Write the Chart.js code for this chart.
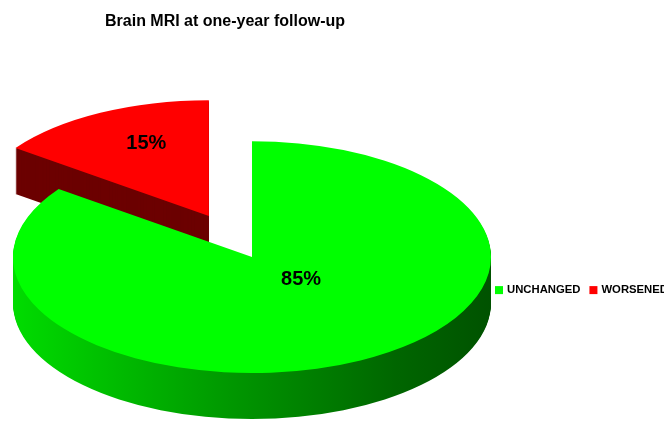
<!DOCTYPE html>
<html lang="en">
<head>
    <meta charset="utf-8">
    <meta name="viewport" content="width=device-width, initial-scale=1">
    <title>Brain MRI at one-year follow-up</title>
    <style>
        html, body { margin: 0; padding: 0; background: #fff; }
        #wrap { position: relative; width: 664px; height: 426px; }
    </style>
</head>
<body>
    <!-- Chart canvas element -->
    <div id="wrap"><canvas id="mriChart"></canvas></div>
    <script src="https://cdn.jsdelivr.net/npm/chart.js"></script>
    <script>
        // Data
        const labels = ['UNCHANGED', 'WORSENED']
        const percent = [85, 15]
        const top_colors = ['#00ff00', '#ff0000']

        // Look of the 3d pie
        const TILT = 0.485          // vertical squash of the disc
        const DEPTH = 46            // wall height in px
        const EXPLODE = [0, 95]     // how far each slice is pulled out
        const LABEL_AT = [0.25, 0.65]
        const LABEL_NUDGE = [[22, -3], [8, -5]]
        const FONT = '"Liberation Sans", Arial, sans-serif'

        function place_arc(ctx, arc, i, drop) {
            // squash the arc about its centre, push it out along its middle angle, drop it for the wall
            const mid = (arc.startAngle + arc.endAngle) / 2
            ctx.translate(arc.x, arc.y + drop)
            ctx.scale(1, TILT)
            ctx.translate(-arc.x + Math.cos(mid) * EXPLODE[i], -arc.y + Math.sin(mid) * EXPLODE[i])
        }

        function wedge_path(ctx, arc) {
            ctx.beginPath()
            ctx.moveTo(arc.x, arc.y)
            ctx.arc(arc.x, arc.y, arc.outerRadius, arc.startAngle, arc.endAngle)
            ctx.closePath()
        }

        const pie3d = {
            id: 'pie3d',
            beforeDatasetsDraw(chart) {
                const ctx = chart.ctx
                const arcs = chart.getDatasetMeta(0).data
                const a0 = arcs[0]
                const wall = ctx.createLinearGradient(a0.x - a0.outerRadius, 0, a0.x + a0.outerRadius, 0)
                wall.addColorStop(0, '#00dc00')
                wall.addColorStop(0.45, '#009800')
                wall.addColorStop(0.8, '#006600')
                wall.addColorStop(1, '#005200')
                const wall_fill = [wall, '#6c0000']

                // walls, back slice first
                ;[1, 0].forEach(i => {
                    const arc = arcs[i]
                    for (let d = DEPTH; d > 0; d--) {
                        ctx.save()
                        place_arc(ctx, arc, i, d)
                        wedge_path(ctx, arc)
                        ctx.restore()
                        ctx.fillStyle = wall_fill[i]
                        ctx.fill()
                    }
                })

                // top faces drawn by the arc elements themselves
                arcs.forEach((arc, i) => {
                    ctx.save()
                    place_arc(ctx, arc, i, 0)
                    arc.draw(ctx)
                    ctx.restore()
                })

                // percentage labels
                ctx.save()
                ctx.font = 'bold 20px ' + FONT
                ctx.fillStyle = '#000'
                ctx.textAlign = 'center'
                ctx.textBaseline = 'middle'
                arcs.forEach((arc, i) => {
                    const mid = (arc.startAngle + arc.endAngle) / 2
                    const r = arc.outerRadius * LABEL_AT[i] + EXPLODE[i]
                    const x = arc.x + Math.cos(mid) * r + LABEL_NUDGE[i][0]
                    const y = arc.y + Math.sin(mid) * r * TILT + LABEL_NUDGE[i][1]
                    ctx.fillText(percent[i] + '%', x, y)
                })
                ctx.restore()
                return false
            },
            afterDraw(chart) {
                // legend to the right of the disc
                const ctx = chart.ctx
                const arc = chart.getDatasetMeta(0).data[0]
                let x = arc.x + arc.outerRadius + 4
                const y = arc.y + 33
                ctx.save()
                ctx.font = 'bold 11.3px ' + FONT
                ctx.textAlign = 'left'
                ctx.textBaseline = 'middle'
                labels.forEach((lab, i) => {
                    ctx.fillStyle = top_colors[i]
                    ctx.fillRect(x, y - 4, 8, 8)
                    x += 12
                    ctx.fillStyle = '#000'
                    ctx.fillText(lab, x, y)
                    x += ctx.measureText(lab).width + 9
                })
                ctx.restore()
            }
        }

        const config = {
            type: 'pie',
            data: {
                labels: labels,
                datasets: [{
                    data: percent,
                    backgroundColor: top_colors,
                    borderWidth: 0,
                    radius: 239
                }]
            },
            options: {
                responsive: true,
                maintainAspectRatio: false,
                animation: false,
                layout: {
                    padding: { left: 105, right: 265 }
                },
                plugins: {
                    legend: { display: false },
                    tooltip: { enabled: false },
                    title: {
                        display: true,
                        text: 'Brain MRI at one-year follow-up',
                        align: 'start',
                        color: '#000',
                        font: { family: FONT, size: 16, weight: 'bold' },
                        padding: { top: 12, bottom: 57 }
                    }
                }
            },
            plugins: [pie3d]
        }
        const chart_object = new Chart(document.getElementById('mriChart'), config)
    </script>
</body>
</html>
